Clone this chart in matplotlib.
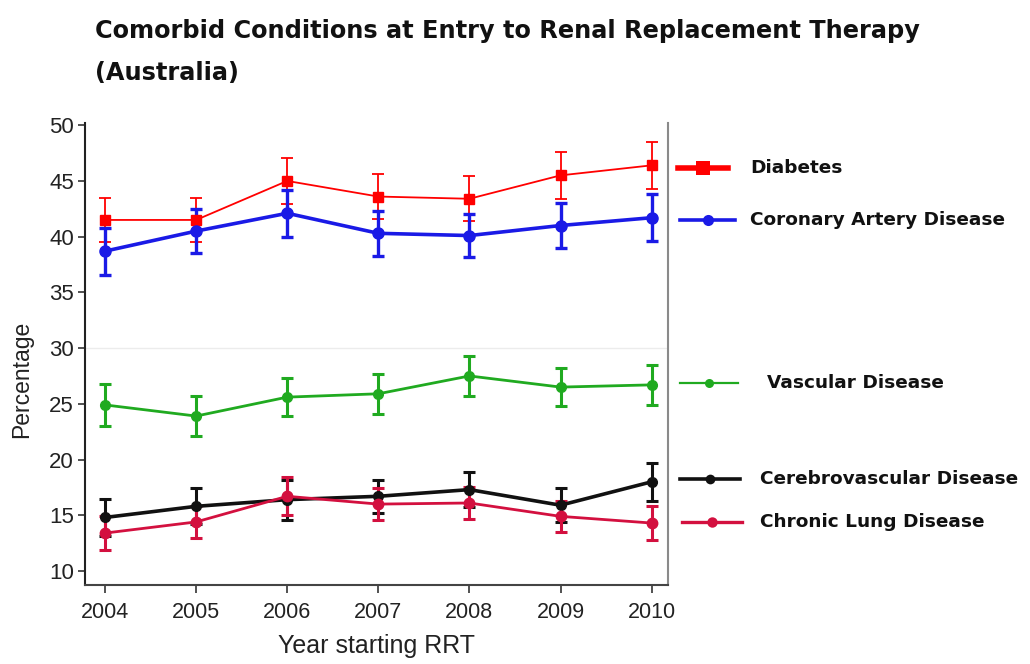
import matplotlib
matplotlib.use("Agg")
import matplotlib.pyplot as plt
from matplotlib.lines import Line2D

years = [2004, 2005, 2006, 2007, 2008, 2009, 2010]

diabetes = [41.5, 41.5, 45.0, 43.6, 43.4, 45.5, 46.4]
diabetes_err = [2.0, 2.0, 2.1, 2.0, 2.0, 2.1, 2.1]

cad = [38.7, 40.5, 42.1, 40.3, 40.1, 41.0, 41.7]
cad_err = [2.1, 2.0, 2.1, 2.0, 1.9, 2.0, 2.1]

vascular = [24.9, 23.9, 25.6, 25.9, 27.5, 26.5, 26.7]
vascular_err = [1.9, 1.8, 1.7, 1.8, 1.8, 1.7, 1.8]

cerebro = [14.8, 15.8, 16.4, 16.7, 17.3, 15.9, 18.0]
cerebro_err = [1.7, 1.6, 1.8, 1.5, 1.6, 1.5, 1.7]

lung = [13.4, 14.4, 16.7, 16.0, 16.1, 14.9, 14.3]
lung_err = [1.5, 1.4, 1.7, 1.4, 1.4, 1.4, 1.5]

labels = ["Diabetes", "Coronary Artery Disease", "Vascular Disease",
          "Cerebrovascular Disease", "Chronic Lung Disease"]
colors = ["#ff0000", "#1a1ae6", "#20aa20", "#111111", "#d3103f"]

title_lines = ["Comorbid Conditions at Entry to Renal Replacement Therapy", "(Australia)"]
ylabel = "Percentage"
xlabel = "Year starting RRT"
yticks = [10, 15, 20, 25, 30, 35, 40, 45, 50]
ref_line = 30

W, H = 1030, 664
fig = plt.figure(figsize=(W / 100, H / 100), dpi=100)
fig.patch.set_facecolor("white")

def fx(px):
    return px / W

def fy(py):
    return 1 - py / H

ax = fig.add_axes([fx(85), fy(585), fx(668) - fx(85), fy(123) - fy(585)])
ax.set_xlim(2003.78, 2010.18)
ax.set_ylim(8.74, 50.2)

ax.axhline(ref_line, color="#ececec", lw=1.0, zorder=0)

series = [
    (diabetes, diabetes_err, dict(marker="s", ms=7.5, lw=1.3, elw=1.3, cap=4.5)),
    (cad, cad_err, dict(marker="o", ms=8, lw=2.6, elw=2.4, cap=4.5)),
    (vascular, vascular_err, dict(marker="o", ms=7, lw=2.0, elw=2.2, cap=4.5)),
    (cerebro, cerebro_err, dict(marker="o", ms=7, lw=2.6, elw=2.2, cap=4.5)),
    (lung, lung_err, dict(marker="o", ms=7.5, lw=2.0, elw=2.2, cap=4.5)),
]
for (vals, errs, st), col in zip(series, colors):
    ax.errorbar(years, vals, yerr=errs, color=col, marker=st["marker"],
                ms=st["ms"], lw=st["lw"], elinewidth=st["elw"],
                capsize=st["cap"], capthick=st["elw"], mec=col, mfc=col)

ax.set_xticks(years)
ax.set_xticklabels([str(y) for y in years])
ax.set_yticks(yticks)
for lab in ax.get_xticklabels() + ax.get_yticklabels():
    lab.set_fontfamily("Liberation Sans")
ax.tick_params(axis="x", labelsize=15.5, length=6, width=1.2, color="#333333",
               pad=6, labelcolor="#222222")
ax.tick_params(axis="y", labelsize=16, length=5, width=1.2, color="#333333",
               pad=3, labelcolor="#222222")

ax.spines["top"].set_visible(False)
ax.spines["left"].set_color("#222222")
ax.spines["left"].set_linewidth(1.5)
ax.spines["bottom"].set_color("#444444")
ax.spines["bottom"].set_linewidth(1.5)
ax.spines["right"].set_color("#8a8a8a")
ax.spines["right"].set_linewidth(1.5)

ax.set_xlabel(xlabel, fontsize=18, family="Liberation Sans", color="#222222", labelpad=8)
ax.set_ylabel(ylabel, fontsize=16.5, family="Liberation Sans", color="#222222")
ax.yaxis.set_label_coords((33 - 85) / 583, (585 - 379) / 462)

# title
fig.text(fx(95), fy(38), title_lines[0], fontsize=17.3, fontweight="bold",
         family="DejaVu Sans", va="baseline", ha="left", color="#111111")
fig.text(fx(95), fy(80), title_lines[1], fontsize=17.3, fontweight="bold",
         family="DejaVu Sans", va="baseline", ha="left", color="#111111")

# manual legend (positions in pixels)
leg_y = [168, 220, 383, 479, 522]
leg_text_x = [750, 750, 767, 760, 760]
leg_line = [(678, 728), (680, 735), (680, 738), (680, 740), (682, 742)]
leg_lw = [4.0, 2.6, 1.6, 2.6, 2.4]
leg_marker = ["s", "o", "o", "o", "o"]
leg_ms = [10, 8, 6.5, 7, 7.5]
for i, lab in enumerate(labels):
    x0, x1 = leg_line[i]
    yy = fy(leg_y[i])
    fig.add_artist(Line2D([fx(x0), fx(x1)], [yy, yy], color=colors[i], lw=leg_lw[i],
                          transform=fig.transFigure))
    fig.add_artist(Line2D([fx((x0 + x1) / 2)], [yy], color=colors[i], marker=leg_marker[i],
                          ms=leg_ms[i], mew=0, transform=fig.transFigure))
    fig.text(fx(leg_text_x[i]), yy, lab, fontsize=13.3, fontweight="bold",
             family="DejaVu Sans", va="center", ha="left", color="#111111")

fig.savefig("out.png", dpi=100, facecolor="white")
